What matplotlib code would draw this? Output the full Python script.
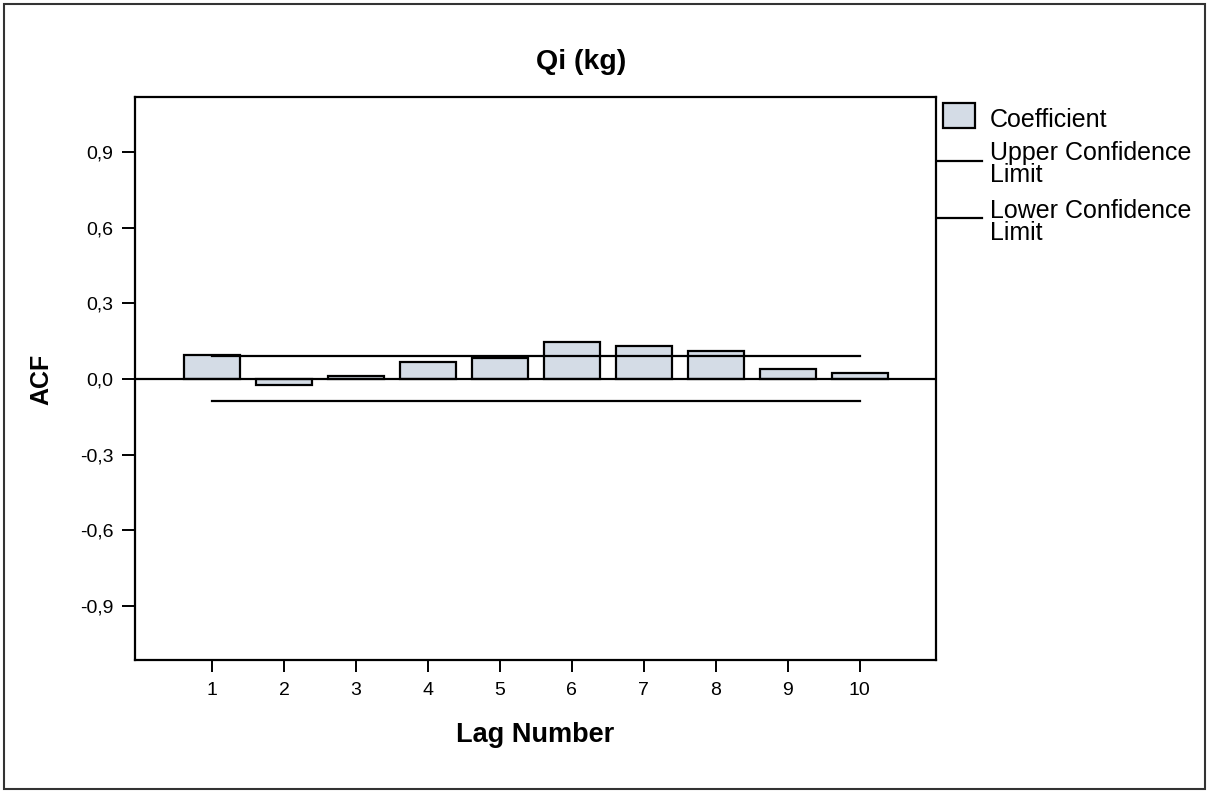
# ACF plot for Qi (kg), lags 1-10

import matplotlib
matplotlib.use("Agg")
import matplotlib.pyplot as plt
from matplotlib.patches import Rectangle
from matplotlib.lines import Line2D

lags = [1, 2, 3, 4, 5, 6, 7, 8, 9, 10]
acf = [0.094, -0.024, 0.013, 0.066, 0.082, 0.147, 0.131, 0.112, 0.039, 0.023]
upper_conf = [0.091] * 10
lower_conf = [-0.088] * 10
yticks = [-0.9, -0.6, -0.3, 0.0, 0.3, 0.6, 0.9]
ytick_labels = ["-0,9", "-0,6", "-0,3", "0,0", "0,3", "0,6", "0,9"]

bar_color = "#d4dce6"

plt.rcParams['font.family'] = ['Liberation Sans', 'DejaVu Sans']

fig = plt.figure(figsize=(12.14, 7.92), dpi=100)
ax = fig.add_axes([135 / 1214, 1 - 660 / 792, 801 / 1214, 563 / 792])

ax.bar(lags, acf, width=0.78, color=bar_color, edgecolor='black', linewidth=1.6, zorder=2)
ax.axhline(0, color='black', lw=1.6, zorder=3)
ax.plot(lags, upper_conf, color='black', lw=1.6, zorder=4)
ax.plot(lags, lower_conf, color='black', lw=1.6, zorder=4)

ax.set_xlim(-0.07, 11.06)
ax.set_ylim(-1.114, 1.118)
ax.set_xticks(lags)
ax.set_xticklabels([str(l) for l in lags])
ax.set_yticks(yticks)
ax.set_yticklabels(ytick_labels)

for s in ax.spines.values():
  s.set_linewidth(1.6)
ax.tick_params(axis='y', direction='out', length=9.4, width=1.4, pad=6, labelsize=14)
ax.tick_params(axis='x', direction='out', length=8.6, width=1.4, pad=7.5, labelsize=14)

ax.set_xlabel('Lag Number', fontsize=19.5, fontweight='bold', va='baseline')
ax.xaxis.set_label_coords(0.5, (660 - 742) / 563)
ax.set_ylabel('ACF', fontsize=18, fontweight='bold', va='center', ha='center')
ax.yaxis.set_label_coords((41 - 135) / 801, (660 - 379) / 563)

fig.text(581 / 1214, 1 - 69 / 792, 'Qi (kg)', fontsize=20.5, fontweight='bold',
         ha='center', va='baseline')

# legend, drawn by hand to mimic SPSS layout
fig.add_artist(Rectangle((943 / 1214, 1 - 128 / 792), 32 / 1214, 25 / 792,
                         transform=fig.transFigure, facecolor=bar_color,
                         edgecolor='black', lw=1.6))
fig.text(990 / 1214, 1 - 127 / 792, 'Coefficient', fontsize=18, va='baseline')
fig.add_artist(Line2D([937 / 1214, 982 / 1214], [1 - 161 / 792] * 2,
                      transform=fig.transFigure, color='black', lw=1.6))
# baseline of a multi-line text is the last line's
fig.text(990 / 1214, 1 - 182 / 792, 'Upper Confidence\nLimit', fontsize=18,
         va='baseline', linespacing=0.9)
fig.add_artist(Line2D([937 / 1214, 982 / 1214], [1 - 218 / 792] * 2,
                      transform=fig.transFigure, color='black', lw=1.6))
fig.text(990 / 1214, 1 - 240 / 792, 'Lower Confidence\nLimit', fontsize=18,
         va='baseline', linespacing=0.9)

# outer frame
fig.add_artist(Rectangle((4 / 1214, 3 / 792), 1201 / 1214, 785 / 792,
                         transform=fig.transFigure, fill=False,
                         edgecolor='#333333', lw=1.5))

fig.savefig('out.png', dpi=100)
